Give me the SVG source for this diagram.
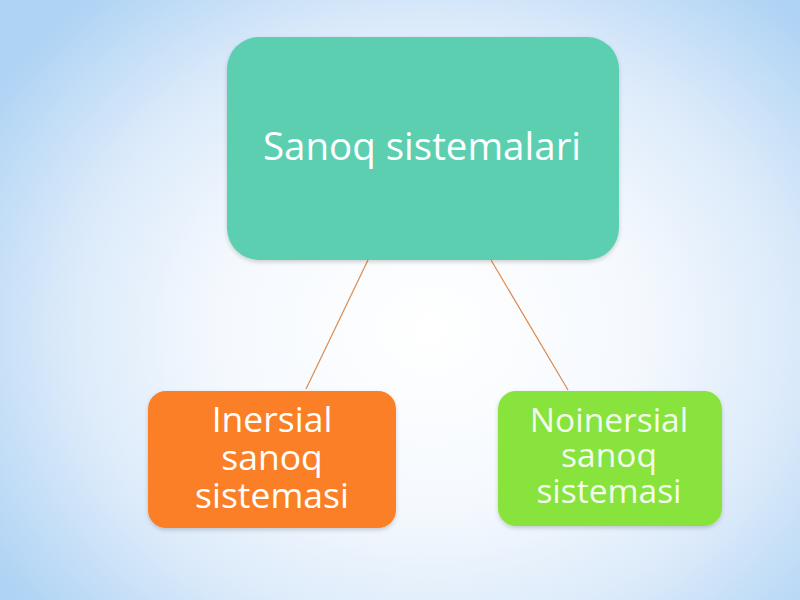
<svg xmlns="http://www.w3.org/2000/svg" width="800" height="600" viewBox="0 0 800 600">
  <defs>
    <radialGradient id="bg" cx="430" cy="330" r="520" gradientUnits="userSpaceOnUse" gradientTransform="translate(430 330) scale(1 0.85) translate(-430 -330)">
      <stop offset="0" stop-color="#ffffff"/>
      <stop offset="0.4" stop-color="#f5f9fe"/>
      <stop offset="0.7" stop-color="#dbeafa"/>
      <stop offset="1" stop-color="#aed3f4"/>
    </radialGradient>
    <filter id="sh" x="-10%" y="-10%" width="120%" height="125%">
      <feDropShadow dx="0" dy="2" stdDeviation="2" flood-color="#000" flood-opacity="0.18"/>
    </filter>
  </defs>
  <style>
    .lbl { font-family: "Open Sans", "Noto Sans", "Liberation Sans", sans-serif; fill: #ffffff; text-anchor: middle; }
    .conn { stroke: #dc8b4e; stroke-width: 1.2; fill: none; }
  </style>
  <rect x="0" y="0" width="800" height="600" fill="url(#bg)"/>
  <g id="connectors">
    <line class="conn" x1="368" y1="260" x2="306" y2="389"/>
    <line class="conn" x1="491" y1="260" x2="568" y2="390"/>
  </g>
  <g id="node-root">
    <rect x="227" y="37" width="392" height="223" rx="32" ry="32" fill="#5bcfb0" filter="url(#sh)"/>
    <text class="lbl" x="422" y="160" font-size="38.5">Sanoq sistemalari</text>
  </g>
  <g id="node-inersial">
    <rect x="148" y="391" width="248" height="137" rx="18" ry="18" fill="#fb7f25" filter="url(#sh)"/>
    <text class="lbl" x="272" y="432" font-size="35.5">Inersial</text>
    <text class="lbl" x="272" y="470" font-size="35.5">sanoq</text>
    <text class="lbl" x="272" y="508" font-size="35.5">sistemasi</text>
  </g>
  <g id="node-noinersial">
    <rect x="498" y="391" width="224" height="135" rx="18" ry="18" fill="#88e33e" filter="url(#sh)"/>
    <text class="lbl" x="609" y="432" font-size="33.5" fill-opacity="0.92">Noinersial</text>
    <text class="lbl" x="609" y="467" font-size="33.5" fill-opacity="0.92">sanoq</text>
    <text class="lbl" x="609" y="503" font-size="33.5" fill-opacity="0.92">sistemasi</text>
  </g>
</svg>
